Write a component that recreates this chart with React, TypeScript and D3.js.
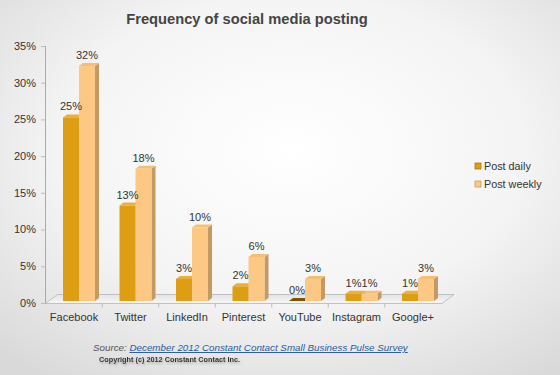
import React from "react";
import * as d3 from "d3";

const categories = ["Facebook", "Twitter", "LinkedIn", "Pinterest", "YouTube", "Instagram", "Google+"];
const postDaily = [25, 13, 3, 2, 0, 1, 1];
const postWeekly = [32, 18, 10, 6, 3, 1, 3];
const yTicks = [0, 5, 10, 15, 20, 25, 30, 35];
const seriesNames = ["Post daily", "Post weekly"];

const W = 560, H = 375;
const FONT = "'Liberation Sans', Arial, Helvetica, sans-serif";

const colors = [
  { front: "#DE9E14", side: "#A87810", top: "#E8B03C", zero: "#7A5200" },
  { front: "#FDC884", side: "#C39A64", top: "#F3BE78", zero: "#C39A64" },
];

export default function App() {
  const x = d3.scaleBand<string>().domain(categories).range([50.75, 446.25]).padding(0);
  const y = d3.scaleLinear().domain([0, 35]).range([301, 44]);
  const bw = 16, dx = 4, dy = 3;
  const series = [postDaily, postWeekly];

  const bar = (v: number, i: number, s: number) => {
    const c = colors[s];
    const cx = (x(categories[i]) as number) + x.bandwidth() / 2;
    const x0 = s === 0 ? cx - bw : cx;
    const yt = y(v), yb = y(0);
    if (v === 0) {
      return (
        <path key={`b${s}-${i}`} d={`M${x0},${yb} L${x0 + bw},${yb} L${x0 + bw + dx},${yb - dy} L${x0 + dx},${yb - dy} Z`} fill={c.zero} />
      );
    }
    return (
      <g key={`b${s}-${i}`}>
        <path d={`M${x0 + bw},${yt} L${x0 + bw + dx},${yt - dy} L${x0 + bw + dx},${yb - dy} L${x0 + bw},${yb} Z`} fill={c.side} />
        <path d={`M${x0},${yt} L${x0 + dx},${yt - dy} L${x0 + bw + dx},${yt - dy} L${x0 + bw},${yt} Z`} fill={c.top} />
        <rect x={x0} y={yt} width={bw} height={yb - yt} fill={c.front} />
      </g>
    );
  };

  const floorFront = 303.5, floorBack = 294.5;
  return (
    <svg width={W} height={H} style={{ display: "block", position: "absolute", left: 0, top: 0 }}>
      <defs>
        <radialGradient id="bg" cx="52%" cy="40%" r="75%">
          <stop offset="0%" stopColor="#ffffff" />
          <stop offset="55%" stopColor="#f4f4f4" />
          <stop offset="100%" stopColor="#d9d9d9" />
        </radialGradient>
        <linearGradient id="floor" x1="0" y1="0" x2="0" y2="1">
          <stop offset="0%" stopColor="#e4e4e4" />
          <stop offset="100%" stopColor="#f6f6f6" />
        </linearGradient>
        <filter id="shadow" x="-10%" y="-50%" width="120%" height="200%">
          <feDropShadow dx="1" dy="1.5" stdDeviation="1" floodColor="#888" floodOpacity="0.7" />
        </filter>
      </defs>
      <rect x={0} y={0} width={W} height={H} fill="url(#bg)" />
      <text x={247} y={24} textAnchor="middle" fontFamily={FONT} fontWeight="bold" fontSize={14.7} fill="#444">
        Frequency of social media posting
      </text>

      {/* y axis */}
      <line x1={45.5} y1={y(35) + 2} x2={45.5} y2={floorFront} stroke="#aaa" strokeWidth={1} />
      {yTicks.map((t) => (
        <g key={`t${t}`}>
          <line x1={41} x2={45.5} y1={y(t) + 2.5} y2={y(t) + 2.5} stroke="#bbb" />
          <text x={36} y={y(t) + 2} dy="0.35em" textAnchor="end" fontFamily={FONT} fontSize={11} fill="#333">
            {`${t}%`}
          </text>
        </g>
      ))}

      {/* floor */}
      <path d={`M45.5,${floorFront} L442,${floorFront} L454,${floorBack} L57.5,${floorBack} Z`} fill="url(#floor)" stroke="#b5b5b5" strokeWidth={0.8} />
      {categories.slice(1).map((c) => (
        <line key={`ct${c}`} x1={(x(c) as number) - 5} x2={(x(c) as number) - 5} y1={floorFront} y2={floorFront + 4} stroke="#bbb" />
      ))}

      {/* bars */}
      {categories.map((_, i) => series.map((vals, s) => bar(vals[i], i, s)))}

      {/* value labels */}
      {categories.map((_, i) =>
        series.map((vals, s) => {
          const cx = (x(categories[i]) as number) + x.bandwidth() / 2;
          const lx = s === 0 ? cx - bw / 2 : cx + bw / 2;
          return (
            <text key={`l${s}-${i}`} x={lx} y={y(vals[i]) - 7} textAnchor="middle" fontFamily={FONT} fontSize={11} fill="#333">
              {`${vals[i]}%`}
            </text>
          );
        })
      )}

      {/* category labels */}
      {categories.map((c) => (
        <text key={`c${c}`} x={(x(c) as number) + x.bandwidth() / 2 - 5} y={321} textAnchor="middle" fontFamily={FONT} fontSize={11} fill="#333">
          {c}
        </text>
      ))}

      {/* legend */}
      {seriesNames.map((n, s) => (
        <g key={`lg${n}`}>
          <rect x={475} y={163 + s * 18} width={6} height={6} fill={colors[s].front} stroke={colors[s].side} strokeWidth={0.8} />
          <text x={484} y={166 + s * 18} dy="0.35em" fontFamily={FONT} fontSize={10.8} fill="#333">
            {n}
          </text>
        </g>
      ))}

      {/* source */}
      <text x={93} y={351} fontFamily={FONT} fontStyle="italic" fontSize={9.8} fill="#555">
        Source:{" "}
        <tspan fill="#2A5BA5" textDecoration="underline">
          December 2012 Constant Contact Small Business Pulse Survey
        </tspan>
      </text>
      <text x={99} y={362} fontFamily={FONT} fontWeight="bold" fontSize={7.3} fill="#333" filter="url(#shadow)">
        Copyright (c) 2012 Constant Contact Inc.
      </text>
    </svg>
  );
}
